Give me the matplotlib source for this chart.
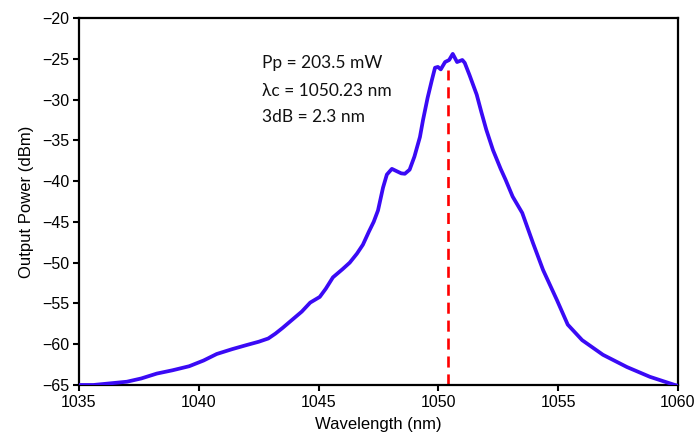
import matplotlib
matplotlib.use("Agg")
import matplotlib.pyplot as plt

wavelength = [1035.0, 1035.6, 1036.3, 1037.0, 1037.6, 1038.25, 1038.9, 1039.6, 1040.2, 1040.75,
              1041.4, 1042.0, 1042.5, 1042.9, 1043.2, 1043.5, 1043.9, 1044.3, 1044.65, 1045.05,
              1045.3, 1045.6, 1046.0, 1046.3, 1046.6, 1046.85, 1047.1, 1047.3, 1047.48, 1047.69,
              1047.85, 1048.06, 1048.27, 1048.45, 1048.6, 1048.8, 1049.0, 1049.23, 1049.36, 1049.55,
              1049.73, 1049.86, 1049.98, 1050.1, 1050.28, 1050.45, 1050.6, 1050.78, 1051.0, 1051.1,
              1051.3, 1051.6, 1051.8, 1052.0, 1052.28, 1052.6, 1052.8, 1053.1, 1053.5, 1053.95,
              1054.37, 1054.95, 1055.4, 1056.0, 1056.87, 1057.87, 1058.83, 1059.87, 1060.0]
power = [-65.0, -65.0, -64.8, -64.6, -64.2, -63.6, -63.2, -62.7, -62.0, -61.2,
         -60.6, -60.1, -59.7, -59.3, -58.7, -58.0, -57.0, -56.0, -54.9, -54.2,
         -53.2, -51.8, -50.8, -50.0, -48.9, -47.8, -46.2, -45.0, -43.6, -40.8,
         -39.2, -38.5, -38.8, -39.05, -39.1, -38.6, -37.0, -34.6, -32.5, -29.8,
         -27.6, -26.1, -26.0, -26.3, -25.4, -25.15, -24.4, -25.4, -25.15, -25.5,
         -27.0, -29.4, -31.6, -33.7, -36.2, -38.5, -39.8, -41.9, -43.9, -47.6,
         -50.9, -54.6, -57.6, -59.5, -61.3, -62.8, -64.0, -65.0, -65.1]

center_wl = 1050.39
center_top = -26.4
annotations = ["Pp = 203.5 mW", "λc = 1050.23 nm", "3dB = 2.3 nm"]
xticks = [1035, 1040, 1045, 1050, 1055, 1060]
yticks = [-65, -60, -55, -50, -45, -40, -35, -30, -25, -20]

plt.rcParams['font.family'] = ['Liberation Sans', 'DejaVu Sans']
plt.rcParams['axes.unicode_minus'] = True

fig = plt.figure(figsize=(6.97, 4.42), dpi=100)
ax = fig.add_axes([0.1133, 0.129, 0.8594, 0.8303])

ax.plot(wavelength, power, color='#3A0AF5', lw=2.7, solid_capstyle='round',
        solid_joinstyle='round', zorder=3)
ax.plot([center_wl, center_wl], [-65, center_top], color='#FF0000', lw=1.9,
        dashes=(4.2, 2.6), zorder=2)

ax.set_xlim(1035, 1060)
ax.set_ylim(-65, -20)
ax.set_xticks(xticks)
ax.set_yticks(yticks)
ax.tick_params(direction='out', length=4, width=1.5, labelsize=11.5, pad=3)
for s in ax.spines.values():
    s.set_linewidth(1.6)
ax.set_xlabel("Wavelength (nm)", fontsize=12, labelpad=5)
ax.set_ylabel("Output Power (dBm)", fontsize=12, labelpad=6)

ys = [-25.5, -28.9, -32.2]
for t, yv in zip(annotations, ys):
    ax.text(1042.62, yv, t, fontsize=12.5, family=['Lato', 'DejaVu Sans'],
            va='center', ha='left', color='#111111')

fig.savefig("out.png", dpi=100)
